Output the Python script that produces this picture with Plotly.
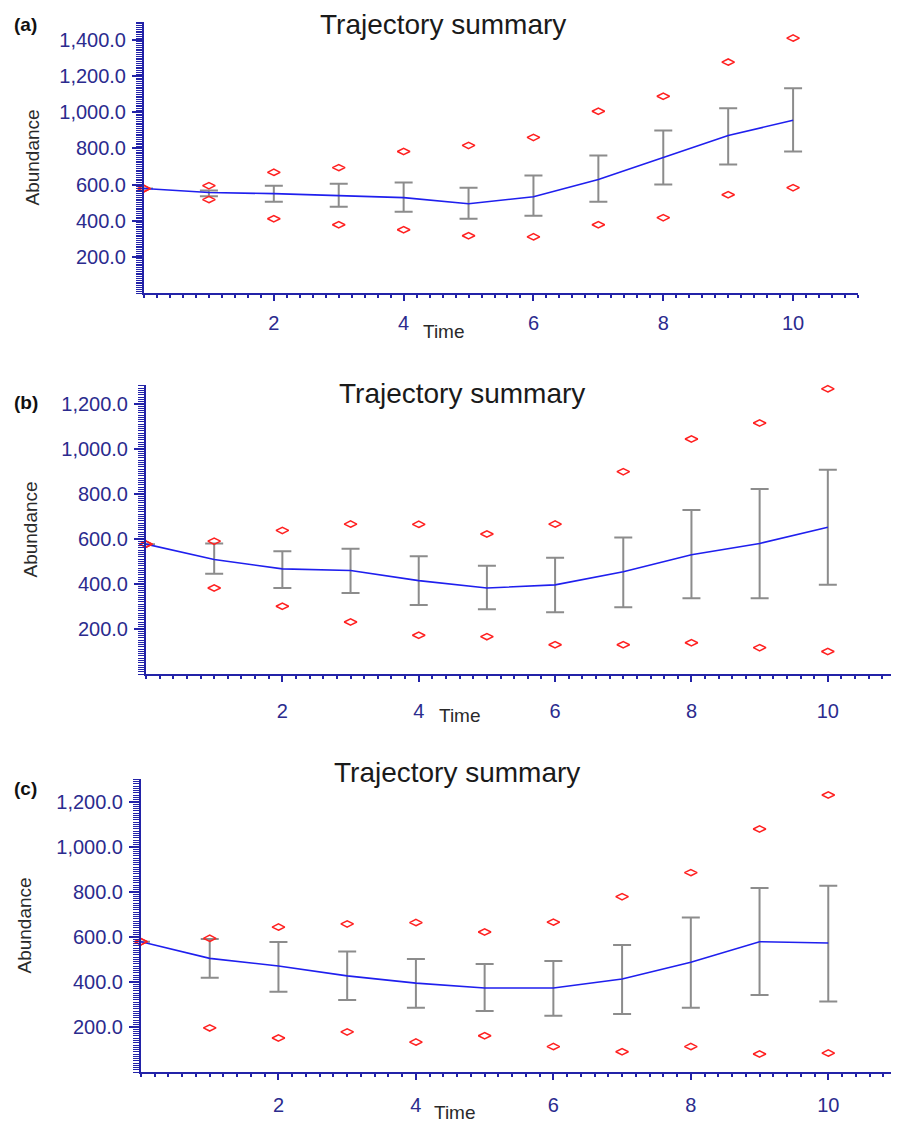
import plotly.graph_objects as go

time = [0, 1, 2, 3, 4, 5, 6, 7, 8, 9, 10]

# Panel (a)
a_mean = [578, 556, 550, 539, 528, 494, 533, 628, 750, 872, 956]
a_top = [578, 568, 594, 605, 611, 583, 650, 761, 900, 1022, 1133]
a_bot = [578, 535, 505, 477, 450, 411, 428, 505, 600, 711, 783]
a_max = [578, 594, 668, 694, 783, 817, 861, 1006, 1089, 1278, 1411]
a_min = [578, 517, 411, 378, 350, 317, 311, 378, 417, 544, 583]

# Panel (b)
b_mean = [577, 509, 467, 460, 415, 382, 396, 454, 530, 580, 652]
b_top = [577, 580, 545, 557, 523, 481, 517, 607, 729, 822, 908]
b_bot = [577, 445, 382, 360, 307, 288, 274, 297, 337, 337, 396]
b_max = [577, 590, 638, 666, 665, 622, 666, 899, 1044, 1115, 1267]
b_min = [577, 382, 301, 231, 172, 166, 130, 130, 139, 117, 100]

# Panel (c)
c_mean = [579, 505, 471, 427, 395, 373, 373, 413, 488, 579, 573]
c_top = [579, 591, 578, 535, 502, 480, 493, 564, 686, 818, 828]
c_bot = [579, 419, 357, 320, 286, 271, 250, 258, 286, 342, 313]
c_max = [579, 594, 644, 658, 664, 622, 666, 779, 886, 1080, 1231]
c_min = [579, 196, 151, 178, 133, 161, 113, 90, 113, 80, 84]

panel_labels = ["(a)", "(b)", "(c)"]
title_text = "Trajectory summary"
y_tickvals_a = [200, 400, 600, 800, 1000, 1200, 1400]
y_tickvals_bc = [200, 400, 600, 800, 1000, 1200]
x_tickvals = [2, 4, 6, 8, 10]

# page has an 8px body margin: figure is drawn from (8, 8) in the window
OFF = 8
W, H = 899 - OFF, 1124 - OFF
AXIS_COL = "#2323a8"
TICK_COL = "#2b2b8e"
FONT = "Arial, Liberation Sans, sans-serif"


def fx(px):
    return (px - OFF) / W


def fy(py):
    return 1 - (py - OFF) / H


panels = [
    dict(x0=144, x1=858, yt=22, yb=293, ymax=1500, xstand=5, mean=a_mean, top=a_top, bot=a_bot,
         mx=a_max, mn=a_min, yticks=y_tickvals_a, title=(443, 25), lab=24, time=(444, 332), abund=32),
    dict(x0=146, x1=896, yt=385, yb=674, ymax=1284, xstand=12, mean=b_mean, top=b_top, bot=b_bot,
         mx=b_max, mn=b_min, yticks=y_tickvals_bc, title=(462, 393), lab=402, time=(460, 715), abund=30),
    dict(x0=141, x1=897, yt=779, yb=1072, ymax=1302, xstand=8, mean=c_mean, top=c_top, bot=c_bot,
         mx=c_max, mn=c_min, yticks=y_tickvals_bc, title=(457, 772), lab=788, time=(455, 1112), abund=24),
]

fig = go.Figure()
annotations = []
layout = {}
for i, p in enumerate(panels):
    n = "" if i == 0 else str(i + 1)
    xa, ya = "x" + n, "y" + n
    fig.add_trace(go.Scatter(
        x=time, y=p["mean"], mode="markers", marker=dict(size=1, opacity=0),
        error_y=dict(type="data", symmetric=False,
                     array=[t - m for t, m in zip(p["top"], p["mean"])],
                     arrayminus=[m - b for m, b in zip(p["mean"], p["bot"])],
                     color="#8c8c8c", thickness=2, width=9),
        xaxis=xa, yaxis=ya, showlegend=False, hoverinfo="skip"))
    fig.add_trace(go.Scatter(
        x=time, y=p["mean"], mode="lines", line=dict(color="#1f1fee", width=1.6),
        xaxis=xa, yaxis=ya, showlegend=False))
    for vals in (p["mx"], p["mn"]):
        fig.add_trace(go.Scatter(
            x=time, y=vals, mode="markers",
            marker=dict(symbol="diamond-wide-open", size=9, color="#ff2020", line=dict(width=1.5, color="#ff2020")),
            xaxis=xa, yaxis=ya, showlegend=False, cliponaxis=False))

    layout["xaxis" + n] = dict(
        domain=[fx(p["x0"]), fx(p["x1"])], range=[0, 11], anchor=ya, automargin=False,
        tickvals=x_tickvals, ticks="outside", ticklen=6, tickwidth=2, tickcolor=AXIS_COL,
        showline=True, linecolor=AXIS_COL, linewidth=2, showgrid=False, zeroline=False,
        tickfont=dict(family=FONT, size=20, color=TICK_COL), ticklabelstandoff=p["xstand"],
        minor=dict(dtick=0.2, tick0=0, ticks="outside", ticklen=3, tickwidth=1.5, tickcolor=AXIS_COL, showgrid=False),
    )
    layout["yaxis" + n] = dict(
        domain=[fy(p["yb"]), fy(p["yt"])], range=[0, p["ymax"]], anchor=xa, automargin=False,
        tickvals=p["yticks"], tickformat=",.1f", ticks="outside", ticklen=10, tickwidth=2, tickcolor=AXIS_COL,
        showline=True, linecolor=AXIS_COL, linewidth=2, showgrid=False, zeroline=False,
        tickfont=dict(family=FONT, size=20, color=TICK_COL), ticklabelstandoff=2,
        minor=dict(dtick=10, tick0=0, ticks="outside", ticklen=6, tickwidth=1, tickcolor=AXIS_COL, showgrid=False),
    )
    annotations.append(dict(text=title_text, x=fx(p["title"][0]), y=fy(p["title"][1]),
                            xref="paper", yref="paper", showarrow=False, xanchor="center", yanchor="middle",
                            font=dict(family=FONT, size=28, color="#1a1a1a")))
    annotations.append(dict(text="<b>" + panel_labels[i] + "</b>", x=fx(12), y=fy(p["lab"]),
                            xref="paper", yref="paper", showarrow=False, xanchor="left", yanchor="middle",
                            font=dict(family=FONT, size=19, color="#111111")))
    annotations.append(dict(text="Time", x=fx(p["time"][0]), y=fy(p["time"][1]),
                            xref="paper", yref="paper", showarrow=False, xanchor="center", yanchor="middle",
                            font=dict(family=FONT, size=19, color="#2a2a2a")))
    annotations.append(dict(text="Abundance", x=fx(p["abund"]), y=fy((p["yt"] + p["yb"]) / 2),
                            xref="paper", yref="paper", showarrow=False, xanchor="center", yanchor="middle",
                            textangle=-90, font=dict(family=FONT, size=19, color="#2a2a2a")))

fig.update_layout(
    width=W, height=H, margin=dict(l=0, r=0, t=0, b=0, autoexpand=False),
    paper_bgcolor="white", plot_bgcolor="white",
    annotations=annotations, **layout,
)
fig.write_html("out.html")
